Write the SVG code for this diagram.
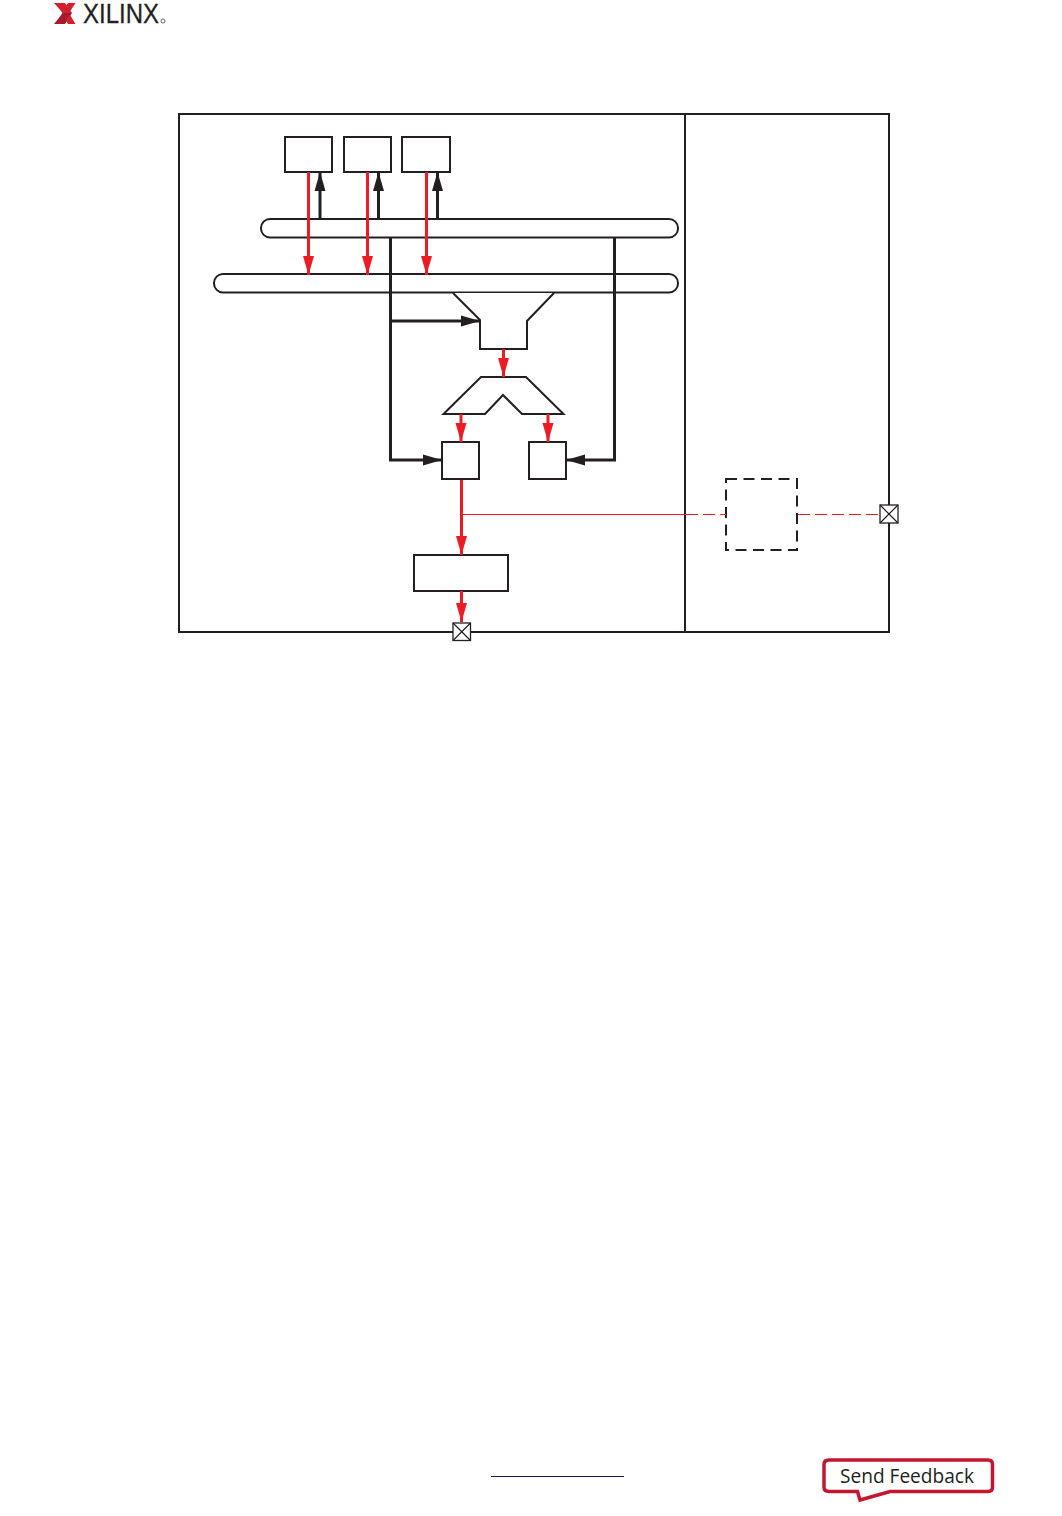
<svg xmlns="http://www.w3.org/2000/svg" width="1062" height="1516" viewBox="0 0 1062 1516">
<style>
.k{fill:none;stroke:#231f20;stroke-width:2}
.b{fill:#fff;stroke:#231f20;stroke-width:2}
.kl{fill:none;stroke:#231f20;stroke-width:3}
.rl{fill:none;stroke:#ed1c24;stroke-width:3}
.thin{fill:none;stroke:#ed1c24;stroke-width:1}
.x{stroke:#231f20;stroke-width:1.200;fill:none}
</style>
<defs>
<marker id="ah-k" markerUnits="userSpaceOnUse" markerWidth="20" markerHeight="12" refX="19" refY="6" orient="auto"><path d="M0 .5L19 6L0 11.5z" fill="#231f20"/></marker>
<marker id="ah-r" markerUnits="userSpaceOnUse" markerWidth="20" markerHeight="12" refX="19" refY="6" orient="auto"><path d="M0 .5L19 6L0 11.5z" fill="#ed1c24"/></marker>
</defs>
<rect width="1062" height="1516" fill="#fff"/>
<g id="logo">
<path d="M54 3H65L72 13H62.500L58.500 8z" fill="#d4202c"/>
<path d="M54 24H65L72 13H62.500L58.500 18.500z" fill="#a6192e"/>
<path d="M54 8.500L59 13L54 18z" fill="#d4202c" opacity="0"/>
<path d="M75.500 3H68L65.500 6.500L70 11.500zM75.500 24H68L65.500 20L70 15z" fill="#d4202c"/>
<text x="83" y="23" font-family="'Liberation Sans',sans-serif" font-size="28" fill="#231f20" stroke="#231f20" stroke-width=".3" textLength="76" lengthAdjust="spacingAndGlyphs">XILINX</text>
<circle cx="163" cy="21" r="2" fill="none" stroke="#666" stroke-width="1"/>
</g>
<g id="container"><rect x="179" y="114" width="710" height="518" class="k"/><path d="M685 114V632" class="k"/></g>
<g id="reg1"><rect x="285" y="137" width="47" height="35" class="b"/></g>
<g id="reg2"><rect x="344" y="137" width="47" height="35" class="b"/></g>
<g id="reg3"><rect x="402" y="137" width="48" height="35" class="b"/></g>
<g id="bus1"><rect x="261" y="219" width="417" height="18.500" rx="9" class="b"/></g>
<g id="bus2"><rect x="214" y="274" width="464" height="18.500" rx="9" class="b"/></g>
<g id="mux"><path d="M453 293L480 320V349H527V321L554 293" class="b"/></g>
<g id="demux"><path d="M443.500 414L481 377H526L563.500 414H522L503 395L485 414z" class="b"/></g>
<g id="ff1"><rect x="442" y="442" width="37" height="37" class="b"/></g>
<g id="ff2"><rect x="529" y="442" width="37" height="37" class="b"/></g>
<g id="out"><rect x="414" y="555" width="94" height="36" class="b"/></g>
<g id="dashed"><rect x="726" y="479" width="71" height="71" fill="none" stroke="#231f20" stroke-width="2" stroke-dasharray="11 6.500"/></g>
<g id="connectors">
<path d="M320 219V172" class="kl" marker-end="url(#ah-k)"/>
<path d="M378.500 219V172" class="kl" marker-end="url(#ah-k)"/>
<path d="M437.500 219V172" class="kl" marker-end="url(#ah-k)"/>
<path d="M390.500 238V460H442" class="kl" marker-end="url(#ah-k)"/>
<path d="M390.500 321H480" class="kl" marker-end="url(#ah-k)"/>
<path d="M614.500 238V460H566" class="kl" marker-end="url(#ah-k)"/>
<path d="M308.500 172V275" class="rl" marker-end="url(#ah-r)"/>
<path d="M367.500 172V275" class="rl" marker-end="url(#ah-r)"/>
<path d="M426.500 172V275" class="rl" marker-end="url(#ah-r)"/>
<path d="M503.500 349V377" class="rl" marker-end="url(#ah-r)"/>
<path d="M461 414V442" class="rl" marker-end="url(#ah-r)"/>
<path d="M548 414V442" class="rl" marker-end="url(#ah-r)"/>
<path d="M461.500 480V555" class="rl" marker-end="url(#ah-r)"/>
<path d="M461.500 591V622" class="rl" marker-end="url(#ah-r)"/>
<path d="M462 514.500H686" class="thin"/>
<path d="M686 514.500H726" class="thin" stroke-dasharray="12 5"/>
<path d="M798 514.500H880" class="thin" stroke-dasharray="12 5"/>
</g>
<g id="pin1"><rect x="453" y="623" width="17.500" height="17.500" fill="#fff" stroke="#231f20" stroke-width="1.300"/><path d="M453 623L470.500 640.500M470.500 623L453 640.500" class="x"/></g>
<g id="pin2"><rect x="880" y="505" width="18" height="18" fill="#fff" stroke="#231f20" stroke-width="1.300"/><path d="M880 505L898 523M898 505L880 523" class="x"/></g>
<g id="footer"><path d="M491 1476.500H624" stroke="#1a1a4e" stroke-width="1" fill="none"/></g>
<g id="feedback">
<path d="M829 1460H988Q992.500 1460 992.500 1464.500V1487Q992.500 1491.500 988 1491.500H890L860 1500L857.500 1491.500H829Q824 1491.500 824 1487V1464.500Q824 1460 829 1460z" fill="#fff" stroke="#c3162f" stroke-width="3.500"/>
<text x="840" y="1482.500" font-family="'Open Sans','Noto Sans',sans-serif" font-size="20" fill="#231f20" textLength="134" lengthAdjust="spacingAndGlyphs">Send Feedback</text>
</g>
</svg>
